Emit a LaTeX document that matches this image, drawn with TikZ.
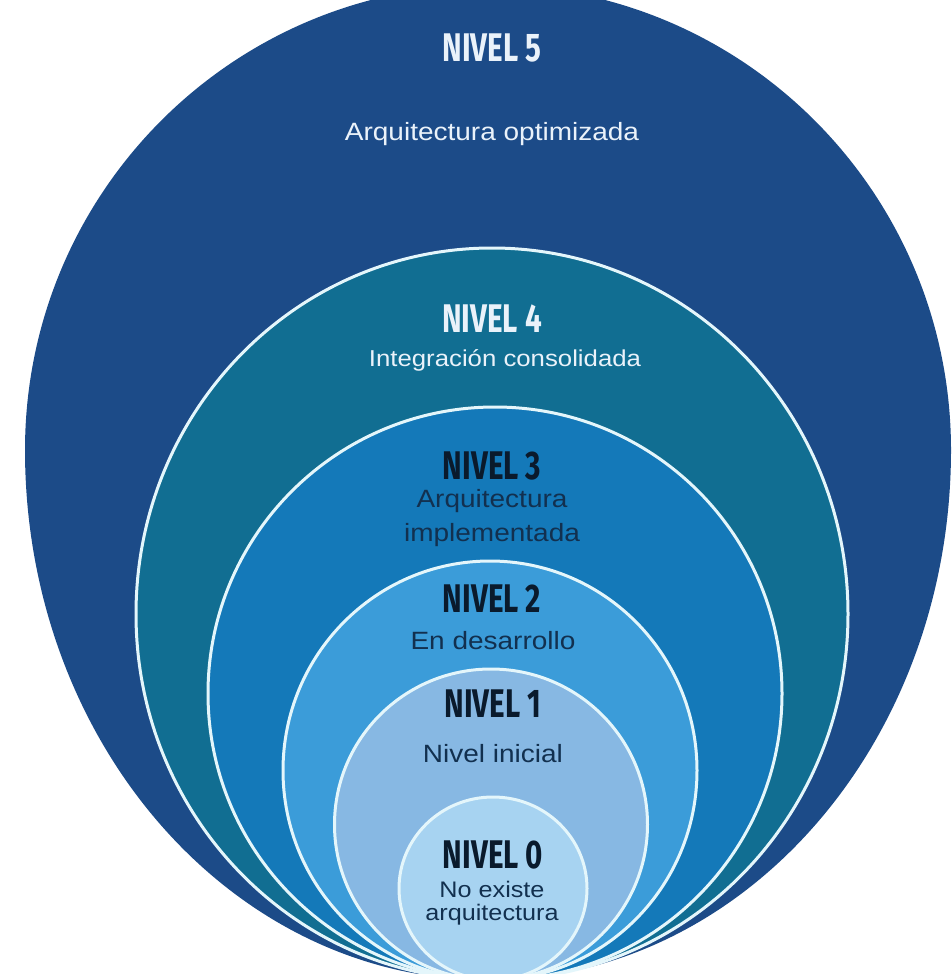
\documentclass[tikz,border=0pt]{standalone}
\usepackage{fontspec}
\setmainfont{Liberation Sans}
\newfontfamily\nivelfont{Fira Sans}[FakeStretch=0.74]
\newfontfamily\textofont{Liberation Sans}[FakeStretch=1.12]
\definecolor{azul5}{HTML}{1C4B88}
\definecolor{azul4}{HTML}{116E92}
\definecolor{azul3}{HTML}{1479B9}
\definecolor{azul2}{HTML}{3B9CD9}
\definecolor{azul1}{HTML}{87B8E3}
\definecolor{azul0}{HTML}{A7D3F1}
\definecolor{borde}{HTML}{E4F6FB}
\definecolor{claro}{HTML}{EAF2FA}
\definecolor{oscuro}{HTML}{0A1A2C}
\definecolor{azultexto}{HTML}{12304F}
\begin{document}
\begin{tikzpicture}[x=1pt,y=-1pt,
    anillo/.style={draw=borde,line width=3pt},
    nivel/.style={font=\nivelfont\bfseries\fontsize{40}{40}\selectfont,text=oscuro,inner sep=0pt,anchor=base},
    texto/.style={font=\textofont\fontsize{25}{30}\selectfont,text=azultexto,inner sep=0pt,anchor=base}]
\useasboundingbox (0,0) rectangle (952,974);
\clip (0,0) rectangle (952,974);
\fill[azul5] (25,450) arc[start angle=180,end angle=0,x radius=463pt,y radius=465pt]
    arc[start angle=0,end angle=-180,x radius=463pt,y radius=530pt] -- cycle;
\filldraw[anillo,fill=azul4] (492,614) ellipse [x radius=356pt,y radius=366pt];
\filldraw[anillo,fill=azul3] (495,693.5) ellipse [x radius=287pt,y radius=286.5pt];
\filldraw[anillo,fill=azul2] (490,770.5) ellipse [x radius=207pt,y radius=209.5pt];
\filldraw[anillo,fill=azul1] (491,824.5) ellipse [x radius=156.5pt,y radius=155.5pt];
\filldraw[anillo,fill=azul0] (493,888.5) ellipse [x radius=94pt,y radius=91.5pt];
\node[nivel,text=claro] (n5) at (492,62) {NIVEL 5};
\node[texto,text=claro] (t5) at (492,140) {Arquitectura optimizada};
\node[nivel,text=claro] (n4) at (492,332) {NIVEL 4};
\node[texto,text=claro,font=\textofont\fontsize{23}{28}\selectfont] (t4) at (505,366) {Integración consolidada};
\node[nivel] (n3) at (492,479) {NIVEL 3};
\node[texto] (t3a) at (492,507) {Arquitectura};
\node[texto] (t3b) at (492,541) {implementada};
\node[nivel] (n2) at (492,612) {NIVEL 2};
\node[texto] (t2) at (493,649) {En desarrollo};
\node[nivel] (n1) at (493,717) {NIVEL 1};
\node[texto] (t1) at (493,762) {Nivel inicial};
\node[nivel] (n0) at (493,868) {NIVEL 0};
\node[texto,font=\textofont\fontsize{22.5}{23}\selectfont] (t0a) at (492,897) {No existe};
\node[texto,font=\textofont\fontsize{22.5}{23}\selectfont] (t0b) at (492,920) {arquitectura};
\end{tikzpicture}
\end{document}
